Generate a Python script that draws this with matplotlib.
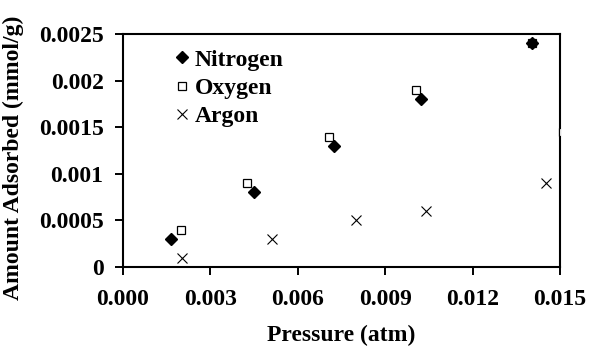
import matplotlib
matplotlib.use("Agg")
import matplotlib.pyplot as plt

plot_fname = "out.png"

# values
nitrogen_p = [0.00165, 0.0045, 0.00724, 0.01023, 0.01404]
nitrogen_q = [0.0003, 0.0008, 0.0013, 0.0018, 0.0024]

oxygen_p = [0.0020, 0.00426, 0.00707, 0.01006, 0.01404, 0.0151]
oxygen_q = [0.0004, 0.0009, 0.0014, 0.0019, 0.0024, 0.00145]

argon_p = [0.00203, 0.0051, 0.0080, 0.0104, 0.01452]
argon_q = [0.0001, 0.0003, 0.0005, 0.0006, 0.0009]

x_ticks = [0.000, 0.003, 0.006, 0.009, 0.012, 0.015]
x_ticklabels = ["0.000", "0.003", "0.006", "0.009", "0.012", "0.015"]
y_ticks = [0, 0.0005, 0.001, 0.0015, 0.002, 0.0025]
y_ticklabels = ["0", "0.0005", "0.001", "0.0015", "0.002", "0.0025"]

plt.rcParams["font.family"] = ["Liberation Serif", "DejaVu Serif"]
plt.rcParams["font.weight"] = "bold"
fs = 17

fig = plt.figure(figsize=(5.89, 3.47), dpi=100)
ax = fig.add_axes([123 / 589, (347 - 267) / 347, 437 / 589, 233 / 347])

ax.plot(oxygen_p, oxygen_q, "s", ms=6.3, mfc="white", mec="black", mew=0.9,
        label="Oxygen", zorder=3)
ax.plot(nitrogen_p, nitrogen_q, "D", ms=5.8, color="black", label="Nitrogen",
        zorder=4)
ax.plot(argon_p, argon_q, "x", ms=7.2, mew=0.8, color="black", label="Argon",
        zorder=3)

ax.set_xlim(0, 0.015)
ax.set_ylim(0, 0.0025)
ax.set_xticks(x_ticks)
ax.set_xticklabels(x_ticklabels)
ax.set_yticks(y_ticks)
ax.set_yticklabels(y_ticklabels)

ax.tick_params(direction="out", length=6, width=1.4, pad=8, labelsize=fs,
               top=False, right=False)
ax.tick_params(axis="x", pad=9.5)
for s in ax.spines.values():
    s.set_linewidth(1.5)

ax.set_xlabel("Pressure (atm)", fontsize=fs, fontweight="bold")
ax.set_ylabel("Amount Adsorbed (mmol/g)", fontsize=fs, fontweight="bold")
ax.xaxis.set_label_coords(0.5, -0.25)
ax.yaxis.set_label_coords(-0.226, 0.47)

handles, labels = ax.get_legend_handles_labels()
order = [1, 0, 2]
ax.legend([handles[i] for i in order], [labels[i] for i in order],
          loc="upper left", bbox_to_anchor=(0.121, 0.935), frameon=False,
          numpoints=1, handlelength=0.5, handletextpad=0.3,
          labelspacing=0.28, borderpad=0, borderaxespad=0,
          prop={"weight": "bold", "size": fs})

fig.savefig(plot_fname, dpi=100)
